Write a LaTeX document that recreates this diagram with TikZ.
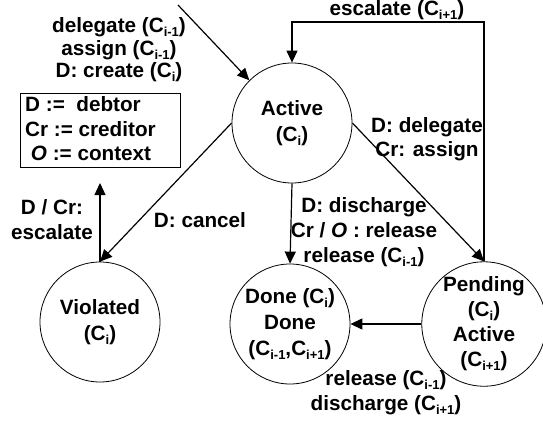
\documentclass[tikz,border=0pt]{standalone}
\usepackage{fontspec}
\setmainfont{Liberation Sans}
\usetikzlibrary{arrows.meta}
% small lowered index, as in C_{i-1}
\newcommand{\ssub}[1]{\raisebox{-0.35ex}{\fontsize{13}{13}\selectfont #1}}

\begin{document}
\begin{tikzpicture}[x=1pt,y=-1pt,
  state/.style={circle,draw,line width=0.8pt,minimum size=120pt,inner sep=0pt,
    align=center,font=\fontsize{20.7}{26}\selectfont\bfseries},
  lbl/.style={align=center,inner sep=0pt,font=\fontsize{20.7}{24}\selectfont\bfseries},
  arr/.style={line width=1.2pt,-{Triangle[length=12pt,width=11pt]}}]
\useasboundingbox (0,0) rectangle (543,423);

% states
\node[state] (active)   at (292,123) {Active\\(C\ssub{i})};
\node[state] (violated) at (100,322) {Violated\\(C\ssub{i})};
\node[state] (done)     at (290,324) {Done (C\ssub{i})\\Done\\(C\ssub{i-1},C\ssub{i+1})};
\node[state,font=\fontsize{20.7}{25}\selectfont\bfseries]
                        (pending)  at (484,324) {Pending\\(C\ssub{i})\\Active\\(C\ssub{i+1})};

% legend
\node[draw,line width=0.8pt,minimum width=160pt,minimum height=74pt,inner sep=0pt]
  (legend) at (100,130) {};
\node[lbl,align=left,anchor=west,font=\fontsize{20.7}{24.5}\selectfont\bfseries]
  (legendtxt) at (25,129) {D :=\ \ debtor\\Cr := creditor\\\ \textit{O} := context};

% entry into Active
\coordinate (entry) at (178,5);
\draw[arr] (entry) -- (active.135);
\node[lbl,font=\fontsize{20.7}{22.5}\selectfont\bfseries] (entrylbl) at (119,50)
  {delegate (C\ssub{i-1})\\assign (C\ssub{i-1})\\D: create (C\ssub{i})};

% escalation back to Active
\coordinate (topR) at (pending.north |- 0,22);
\coordinate (topL) at (active.north |- 0,22);
\draw[arr] (pending.north) -- (topR) -- (topL) -- (active.north);
\node[lbl] (esclbl) at (397,10) {escalate (C\ssub{i+1})};

% delegation
\draw[arr] (active.east) -- (pending.north);
\node[lbl] (dellbl) at (427,139) {D: delegate\\Cr: assign};

% cancel
\draw[arr] (active.west) -- (violated.north);
\node[lbl] (canlbl) at (200,220) {D: cancel};

% violated escalation
\coordinate (violup) at (100,183);
\draw[arr] (violated.north) -- (violup);
\node[lbl,font=\fontsize{20.7}{25}\selectfont\bfseries] (viollbl) at (52,220) {D / Cr:\\escalate};

% discharge
\draw[arr] (active.south) -- (done.north);
\node[lbl,font=\fontsize{20.7}{25}\selectfont\bfseries] (dislbl) at (364,232)
  {D: discharge\\Cr / \textit{O} : release\\release (C\ssub{i-1})};

% pending to done
\draw[arr] (pending.west) -- (done.east);
\node[lbl,font=\fontsize{20.7}{25}\selectfont\bfseries] (reldis) at (386,393)
  {release (C\ssub{i-1})\\discharge (C\ssub{i+1})};
\end{tikzpicture}
\end{document}
